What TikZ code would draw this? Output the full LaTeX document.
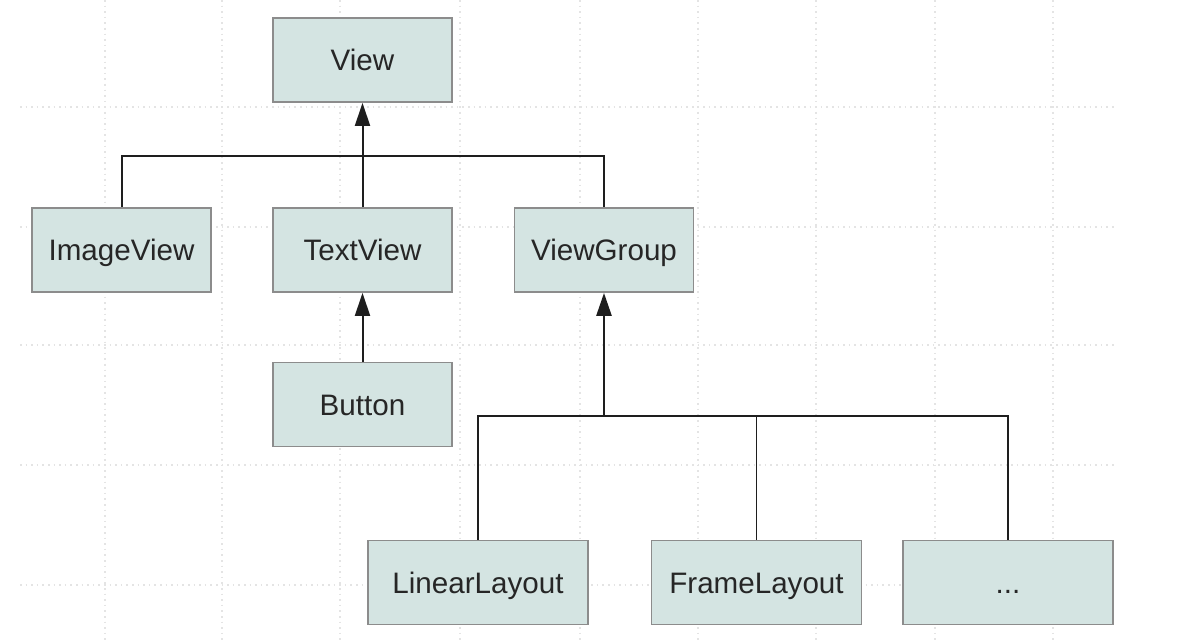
\documentclass[tikz,border=0pt]{standalone}
\usepackage{fontspec}
\setmainfont{Liberation Sans}
\usetikzlibrary{arrows.meta}
\definecolor{boxfill}{RGB}{212,228,226}
\definecolor{boxline}{RGB}{140,140,140}
\definecolor{wire}{RGB}{30,30,30}
\definecolor{gridc}{RGB}{228,228,228}
\begin{document}
\begin{tikzpicture}[x=0.5pt,y=-0.5pt,
  cls/.style={draw=boxline, line width=0.9pt, fill=boxfill, minimum width=89.5pt, minimum height=42pt, inner sep=0pt, text height=10.5pt, text depth=0pt, font=\fontsize{14.8}{17}\selectfont, text=black!85},
  wide/.style={cls, minimum width=105pt},
  wirel/.style={draw=wire, line width=1pt},
  inh/.style={wirel, -{Triangle[width=7.5pt,length=11.5pt]}},
  gridl/.style={draw=gridc, line width=0.8pt, dotted}]
\useasboundingbox (0,0) rectangle (1200,642);
\fill[white] (0,0) rectangle (1200,642);
% background grid
\foreach \gx in {105,222,340,460,580,698,816,935,1053}
  \draw[gridl] (\gx,0) -- (\gx,642);
\foreach \gy in {107,227,345,465,585}
  \draw[gridl] (20,\gy) -- (1115,\gy);
% classes
\node[cls] (view) at (362.5,60) {View};
\node[cls] (image) at (121.5,250) {ImageView};
\node[cls] (text) at (362.5,250) {TextView};
\node[cls] (group) at (604,250) {ViewGroup};
\node[cls] (button) at (362.5,404.5) {Button};
\node[wide, minimum width=110pt] (linear) at (478,582.5) {LinearLayout};
\node[wide] (frame) at (756.5,582.5) {FrameLayout};
\node[wide] (more) at (1008,582.5) {...};
% connectors
\coordinate (bus1) at (362.5,156);
\coordinate (bus2) at (604,416);
\draw[wirel] (image.north) |- (bus1) -| (group.north);
\draw[inh] (text.north) -- (view.south);
\draw[inh] (button.north) -- (text.south);
\draw[wirel] (linear.north) |- (bus2) -| (more.north);
\draw[wirel, line width=0.6pt] (frame.north) -- (frame.north |- bus2);
\draw[inh, line width=1.3pt] (bus2) -- (group.south);
\end{tikzpicture}
\end{document}
